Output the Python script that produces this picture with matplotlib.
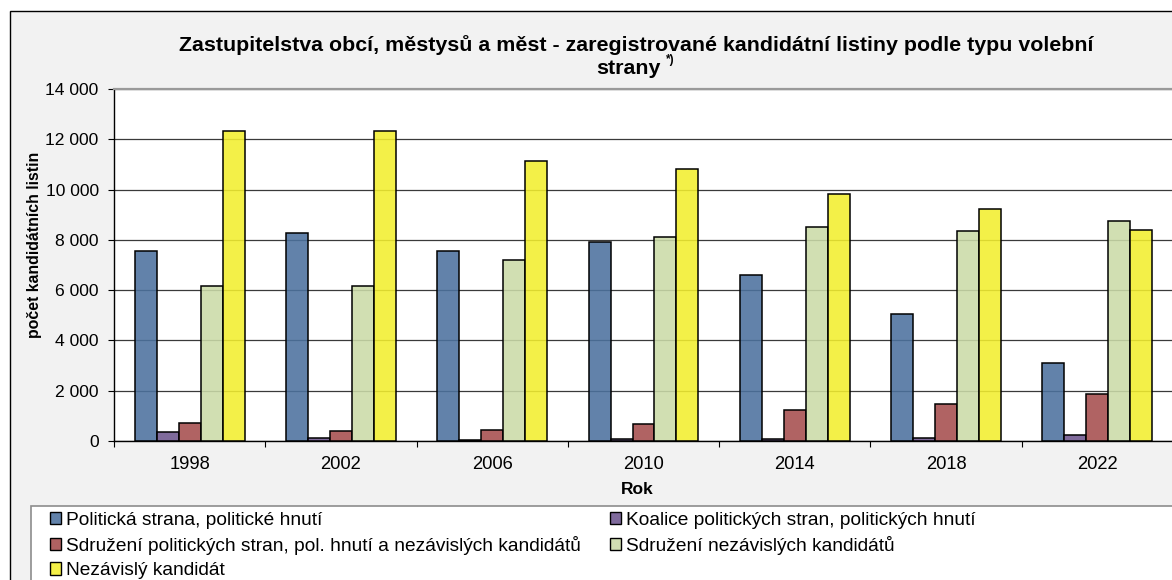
import matplotlib
matplotlib.use("Agg")
import matplotlib.pyplot as plt
from matplotlib.patches import Rectangle, Patch
from matplotlib.ticker import FuncFormatter, FixedLocator
from matplotlib.colors import to_rgba
import numpy as np

plt.rcParams['font.family'] = ['Liberation Sans', 'DejaVu Sans']

years = ["1998", "2002", "2006", "2010", "2014", "2018", "2022"]
series_names = [
    "Politická strana, politické hnutí",
    "Koalice politických stran, politických hnutí",
    "Sdružení politických stran, pol. hnutí a nezávislých kandidátů",
    "Sdružení nezávislých kandidátů",
    "Nezávislý kandidát",
]
politicka_strana = [7560, 8260, 7560, 7920, 6600, 5050, 3120]
koalice = [345, 105, 40, 65, 65, 105, 225]
sdruzeni_ps_nk = [700, 385, 425, 690, 1220, 1470, 1855]
sdruzeni_nk = [6170, 6170, 7200, 8100, 8525, 8370, 8750]
nezavisly = [12320, 12320, 11125, 10805, 9840, 9230, 8405]
y_ticks = [0, 2000, 4000, 6000, 8000, 10000, 12000, 14000]

data = [politicka_strana, koalice, sdruzeni_ps_nk, sdruzeni_nk, nezavisly]
# appearance colours (as seen) and the base colours drawn semi-transparently
seen_colors = ['#6282aa', '#7f6a9c', '#b06262', '#d1dfb2', '#f4f048']
base_colors = ['#4c719e', '#6e568f', '#a54d4d', '#cbdba8', '#f2ee2f']
alpha = 0.88

W, H = 1172, 580
fig = plt.figure(figsize=(W / 100, H / 100), dpi=100)
fig.patch.set_facecolor('white')

# outer chart frame
fig.patches.append(Rectangle((10 / W, -0.1), 1.2, (H - 11) / H + 0.1,
                             transform=fig.transFigure, facecolor='#f2f2f2',
                             edgecolor='black', linewidth=1.0, zorder=-10))
# legend box
fig.patches.append(Rectangle((31 / W, -0.1), 1.2, (H - 506) / H + 0.1,
                             transform=fig.transFigure, facecolor='white',
                             edgecolor='#8c8c8c', linewidth=1.2, zorder=-5))

left, right, top, bottom = 114, 1173, 89, 441
ax = fig.add_axes([left / W, (H - bottom) / H, (right - left) / W, (bottom - top) / H])
ax.set_facecolor('white')

n = len(data)
bw = 0.1454
x = np.arange(len(years))
for i, (vals, c) in enumerate(zip(data, base_colors)):
    ax.bar(x + (i - (n - 1) / 2) * bw, vals, width=bw, facecolor=to_rgba(c, alpha),
           edgecolor='black', linewidth=1.1, zorder=3, label=series_names[i])

ax.set_xlim(-0.5, len(years) - 0.5)
ax.set_ylim(0, 14000)
ax.set_yticks(y_ticks)
ax.yaxis.set_major_formatter(FuncFormatter(lambda v, p: f"{int(v):,}".replace(",", " ")))
ax.grid(axis='y', color='#3a3a3a', linewidth=0.9, zorder=1)
ax.set_axisbelow(True)

ax.xaxis.set_major_locator(FixedLocator(np.arange(-0.5, len(years), 1.0)))
ax.xaxis.set_major_formatter(FuncFormatter(lambda v, p: ""))
ax.set_xticks(x, years, minor=True)
ax.tick_params(axis='x', which='major', length=4, width=0.8, direction='out', colors='black')
ax.tick_params(axis='x', which='minor', length=0, pad=11, labelsize=13.2)
ax.tick_params(axis='y', length=4, width=0.8, direction='out', pad=7, labelsize=12.6)

for s in ['left', 'bottom']:
    ax.spines[s].set_color('black')
    ax.spines[s].set_linewidth(1.0)
ax.spines['top'].set_color('#9a9a9a')
ax.spines['top'].set_linewidth(1.6)
ax.spines['right'].set_color('#c0c0c0')
ax.spines['right'].set_linewidth(1.0)

# titles / labels
fig.text(636 / W, 1 - 45 / H,
         "Zastupitelstva obcí, městysů a měst - zaregistrované kandidátní listiny podle typu volební",
         ha='center', va='center', fontsize=15.4, fontweight='bold')
t2 = fig.text(628 / W, 1 - 68 / H, "strany", ha='center', va='center', fontsize=15.4, fontweight='bold')
ax.annotate("*)", xy=(1.0, 0.62), xycoords=t2, xytext=(4, 0), textcoords='offset points',
            ha='left', va='bottom', fontsize=8.5, fontweight='bold', annotation_clip=False)
fig.text(34.5 / W, 1 - 245 / H, "počet kandidátních listin", rotation=90, ha='center', va='center',
         fontsize=11.4, fontweight='bold')
fig.text(637 / W, 1 - 490 / H, "Rok", ha='center', va='center', fontsize=12.5, fontweight='bold')

order = [0, 2, 4, 1, 3]
leg_handles = [Patch(facecolor=seen_colors[i], edgecolor='black', linewidth=1.0) for i in order]
leg_labels = [series_names[i] for i in order]
fig.legend(leg_handles, leg_labels, ncol=2, loc='upper left',
           bbox_to_anchor=(44 / W, 1 - 506 / H), frameon=False, fontsize=13.8,
           handlelength=0.6, handleheight=0.6, handletextpad=0.25,
           columnspacing=1.5, labelspacing=0.38, borderpad=0.3, borderaxespad=0)

fig.savefig("out.png", dpi=100, facecolor=fig.get_facecolor())
